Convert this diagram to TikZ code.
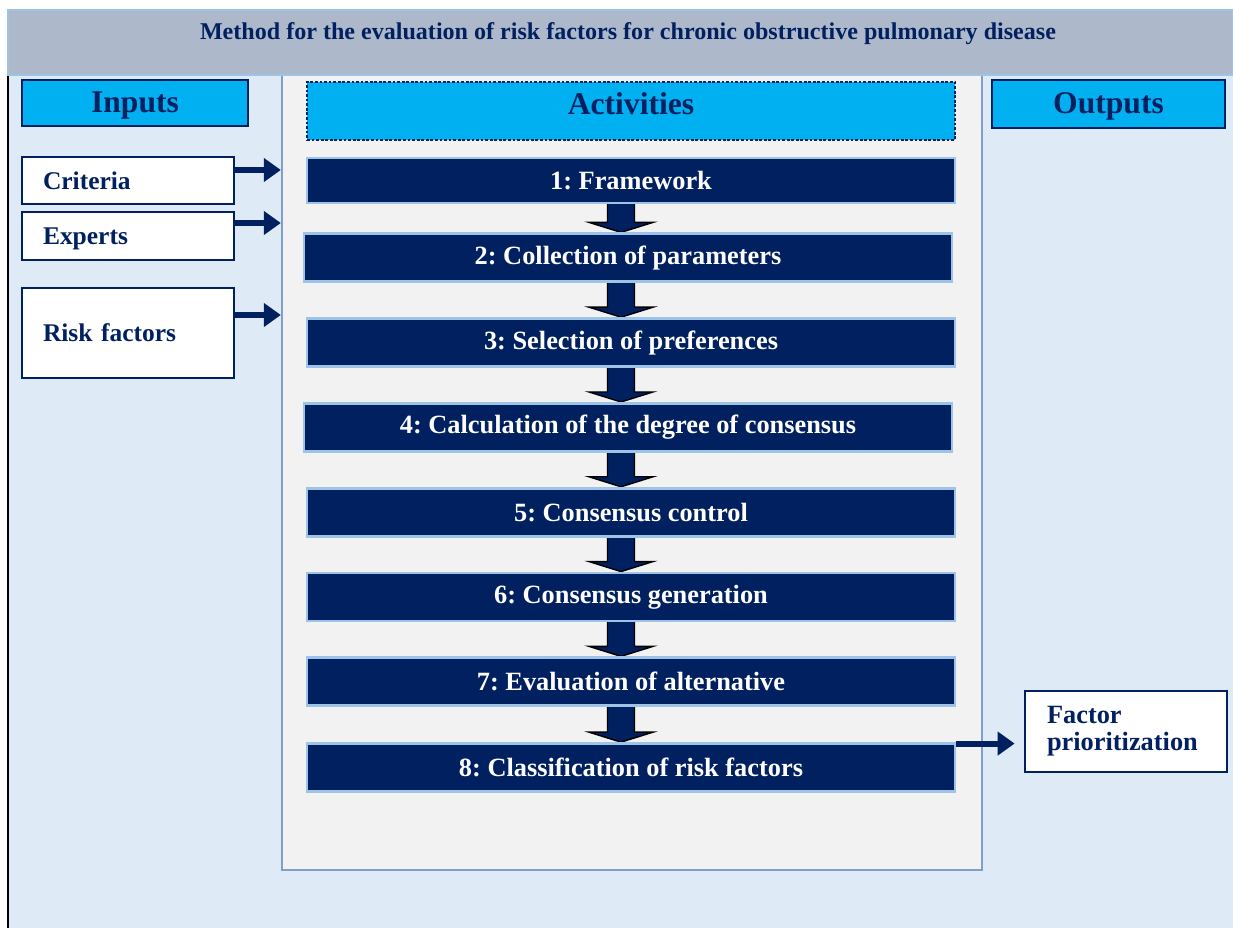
\documentclass[tikz,border=0pt]{standalone}
\usepackage{fontspec}
\setmainfont{Liberation Serif}
\usepackage{xcolor}
\usetikzlibrary{arrows.meta, positioning, calc}
\definecolor{NavyText}{HTML}{002060}
\definecolor{BannerGray}{HTML}{ADB9CA}
\definecolor{PaleBlue}{HTML}{DEEAF6}
\definecolor{PanelGray}{HTML}{F2F2F2}
\definecolor{PanelEdge}{HTML}{7F9FC9}
\definecolor{SkyFill}{HTML}{00B0F0}
\definecolor{StepEdge}{HTML}{9DC3E6}
\pgfdeclarelayer{bg}
\pgfdeclarelayer{mid}
\pgfsetlayers{bg,mid,main}
\frenchspacing

\tikzset{
  header/.style={draw=NavyText, line width=1.6pt, fill=SkyFill, text=NavyText, font=\fontsize{18}{20}\selectfont\bfseries, minimum width=4.52cm, minimum height=0.92cm},
  inbox/.style={draw=NavyText, line width=1.6pt, fill=white, text=NavyText, font=\fontsize{14.5}{15.5}\selectfont\bfseries, inner xsep=0.42cm, text width=3.4cm, align=left},
  stepbox/.style={draw=StepEdge, line width=1.6pt, fill=NavyText, text=white, font=\fontsize{15}{17}\selectfont\bfseries, minimum width=12.96cm, minimum height=0.96cm},
  inarrow/.style={-{Triangle[length=0.34cm, width=0.46cm]}, NavyText, line width=3.4pt},
  downarrow/.style={draw=black, fill=NavyText, line width=0.8pt},
}

\begin{document}
\begin{tikzpicture}[x=0.02cm, y=-0.02cm]
  \useasboundingbox (0,0) rectangle (1233,928);

  % Frame and panel
  \begin{pgfonlayer}{bg}
    \fill[PaleBlue] (8,75) rectangle (1233,928);
    \draw[black, line width=1.2pt] (8,75) -- (8,928);
    \node[draw=PanelEdge, line width=1.4pt, fill=PanelGray, minimum width=14cm, minimum height=15.9cm] (panel) at (632,472.5) {};
  \end{pgfonlayer}
  \node[draw=StepEdge, line width=1.2pt, fill=BannerGray, minimum width=24.5cm, minimum height=1.3cm] (banner) at (620.5,42.5) {};
  \node[text=NavyText, font=\fontsize{13.7}{15}\selectfont\bfseries] (title) at (628,34) {Method for the evaluation of risk factors for chronic obstructive pulmonary disease};

  % Headers
  \node[header, text depth=0.04cm] (inputs) at (135,103) {Inputs};
  \node[header, minimum width=12.96cm, minimum height=1.16cm, draw=NavyText, densely dotted, line width=0.8pt, text depth=0.28cm] (activities) at (631,111) {Activities};
  \node[header, minimum width=4.66cm, minimum height=0.96cm, text depth=0.02cm] (outputs) at (1108.5,104) {Outputs};

  % Inputs
  \node[inbox, minimum height=0.94cm] (criteria) at (128,180.5) {Criteria};
  \node[inbox, minimum height=0.96cm, text depth=0pt] (experts) at (128,236) {Experts};
  \node[inbox, minimum height=1.8cm] (risk) at (128,333) {Risk factors};

  % Steps
  \node[stepbox, minimum height=0.9cm] (s1) at (631,180.5) {1: Framework};
  \node[stepbox, below=0.56cm of s1, xshift=-0.06cm] (s2) {2: Collection of parameters};
  \node[stepbox, below=0.68cm of s2, xshift=0.06cm] (s3) {3: Selection of preferences};
  \node[stepbox, below=0.68cm of s3, xshift=-0.06cm] (s4) {4: Calculation of the degree of consensus};
  \node[stepbox, below=0.68cm of s4, xshift=0.06cm] (s5) {5: Consensus control};
  \node[stepbox, below=0.68cm of s5] (s6) {6: Consensus generation};
  \node[stepbox, below=0.68cm of s6] (s7) {7: Evaluation of alternative};
  \node[stepbox, below=0.7cm of s7] (s8) {8: Classification of risk factors};

  % Output
  \node[inbox, minimum height=1.62cm, inner xsep=0.44cm, text width=3.16cm, font=\fontsize{15}{15.3}\selectfont\bfseries] (result) at (1126,731.5) {Factor\\prioritization};

  % Arrows
  \coordinate (ax) at (621,0);
  \begin{pgfonlayer}{mid}
    \foreach \a/\b in {s1/s2,s2/s3,s3/s4,s4/s5,s5/s6,s6/s7,s7/s8}
      \draw[downarrow] ($(\a.south -| ax)+(-13.5,-4)$) -- ($(\a.south -| ax)+(13.5,-4)$) -- ($(\b.north -| ax)+(13.5,-10)$) -- ($(\b.north -| ax)+(32,-10)$) -- (\b.north -| ax) -- ($(\b.north -| ax)+(-32,-10)$) -- ($(\b.north -| ax)+(-13.5,-10)$) -- cycle;
  \end{pgfonlayer}
  \draw[inarrow] ($(criteria.east)+(0,-10.5)$) coordinate (c1) -- (c1 -| panel.west);
  \draw[inarrow] ($(experts.east)+(0,-13)$) coordinate (c2) -- (c2 -| panel.west);
  \draw[inarrow] ($(risk.east)+(0,-18)$) coordinate (c3) -- (c3 -| panel.west);
  \draw[inarrow, shorten >=0.18cm] ($(s8.east)+(0,-24)$) coordinate (c4) -- (c4 -| result.west);
\end{tikzpicture}
\end{document}
